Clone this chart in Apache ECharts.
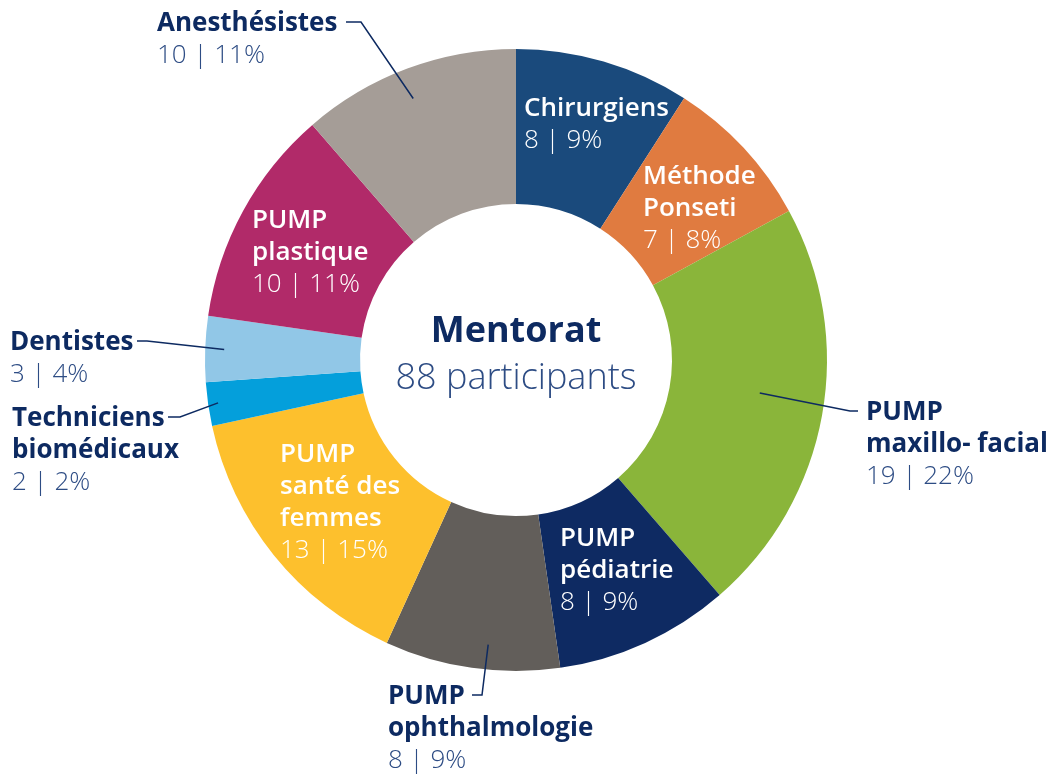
<!DOCTYPE html>
<html>
<head>
<meta charset="utf-8">
<script src="https://cdn.jsdelivr.net/npm/echarts@6/dist/echarts.min.js"></script>
<style>
  html, body { margin: 0; padding: 0; background: #fff; }
  #chart { width: 1049px; height: 776px; }
</style>
</head>
<body>
<div id="chart"></div>
<script>
const categories = ['Chirurgiens', 'Méthode\nPonseti', 'PUMP\nmaxillo- facial', 'PUMP\npédiatrie', 'PUMP\nophthalmologie',
    'PUMP\nsanté des\nfemmes', 'Techniciens\nbiomédicaux', 'Dentistes', 'PUMP\nplastique', 'Anesthésistes'];
const counts = [8, 7, 19, 8, 8, 13, 2, 3, 10, 10];
const percents = [9, 8, 22, 9, 9, 15, 2, 4, 11, 11];
const centreTitle = 'Mentorat';
const centreSub = '88 participants';

const colors = ['#1a4a7c', '#e07b40', '#8ab53a', '#0e2a62', '#625e5a', '#fdc02d', '#049fdb', '#91c7e7', '#b12a69', '#a59d97'];
const navy = '#0d2a61';
const navyLight = '#2d4c84';
const font = '"Open Sans", sans-serif';

const cx = 516, cy = 360, rIn = 156, rOut = 311;
// label block placement (top-left), leader line: anchor radius / angle offset (deg), elbow x, end x
const labelBoxes = [
    { x: 524, y: 93, inside: true },
    { x: 643, y: 161, inside: true },
    { x: 866, y: 397, inside: false, r: 246, da: -2.5, elbowX: 850, endX: 858 },
    { x: 560, y: 523, inside: true },
    { x: 388, y: 681, inside: false, r: 286, da: -2.6, elbowX: 482, endX: 472 },
    { x: 280, y: 439, inside: true },
    { x: 12, y: 403, inside: false, r: 301, da: 0, elbowX: 180, endX: 168 },
    { x: 10, y: 327, inside: false, r: 292, da: 0, elbowX: 147, endX: 137 },
    { x: 252, y: 205, inside: true },
    { x: 157, y: 8, inside: false, r: 281, da: -1, elbowX: 361, endX: 346 }
];

const total = counts.reduce((a, b) => a + b, 0);
const midAngles = [];
let acc = 0;
counts.forEach(v => { midAngles.push((acc + v / 2) / total * Math.PI * 2); acc += v; });

function polar(a, r) {
    return [cx + r * Math.sin(a), cy - r * Math.cos(a)];
}

const data = categories.map((name, i) => {
    const inside = labelBoxes[i].inside;
    return {
        name: name,
        value: counts[i],
        itemStyle: { color: colors[i] },
        label: {
            position: inside ? 'inside' : 'outside',
            overflow: 'none',
            formatter: '{n|' + name.split('\n').join('}\n{n|') + '}\n{v|' + counts[i] + ' | ' + percents[i] + '%}',
            rich: {
                n: { fontFamily: font, fontSize: 26, fontWeight: inside ? 600 : 700, color: inside ? '#fff' : navy, lineHeight: 32 },
                v: { fontFamily: font, fontSize: 26, fontWeight: 300, color: inside ? '#fff' : navyLight, lineHeight: 32 }
            }
        }
    };
});

// leader lines drawn over the ring, starting inside each slice
const leaders = [];
labelBoxes.forEach((b, i) => {
    if (b.inside) return;
    const lineY = b.y + 14;
    leaders.push({
        type: 'polyline',
        z: 100,
        shape: { points: [polar(midAngles[i] + b.da * Math.PI / 180, b.r), [b.elbowX, lineY], [b.endX, lineY]] },
        style: { stroke: navy, lineWidth: 1.5, fill: null }
    });
});

const chart = echarts.init(document.getElementById('chart'), null, { renderer: 'canvas' });
chart.setOption({
    animation: false,
    backgroundColor: '#fff',
    graphic: [{
        type: 'text',
        style: { text: centreTitle, fontFamily: font, fontSize: 36, fontWeight: 700, fill: navy, align: 'center', verticalAlign: 'middle' },
        x: cx, y: 332
    }, {
        type: 'text',
        style: { text: centreSub, fontFamily: font, fontSize: 36, fontWeight: 300, fill: navyLight, align: 'center', verticalAlign: 'middle' },
        x: cx, y: 379
    }].concat(leaders),
    series: [{
        type: 'pie',
        center: [cx, cy],
        radius: [rIn, rOut],
        startAngle: 90,
        clockwise: true,
        label: { show: true, overflow: 'none' },
        labelLine: { show: false },
        labelLayout: function (params) {
            const b = labelBoxes[params.dataIndex];
            return { x: b.x, y: b.y, align: 'left', verticalAlign: 'top' };
        },
        data: data
    }]
});
</script>
</body>
</html>
